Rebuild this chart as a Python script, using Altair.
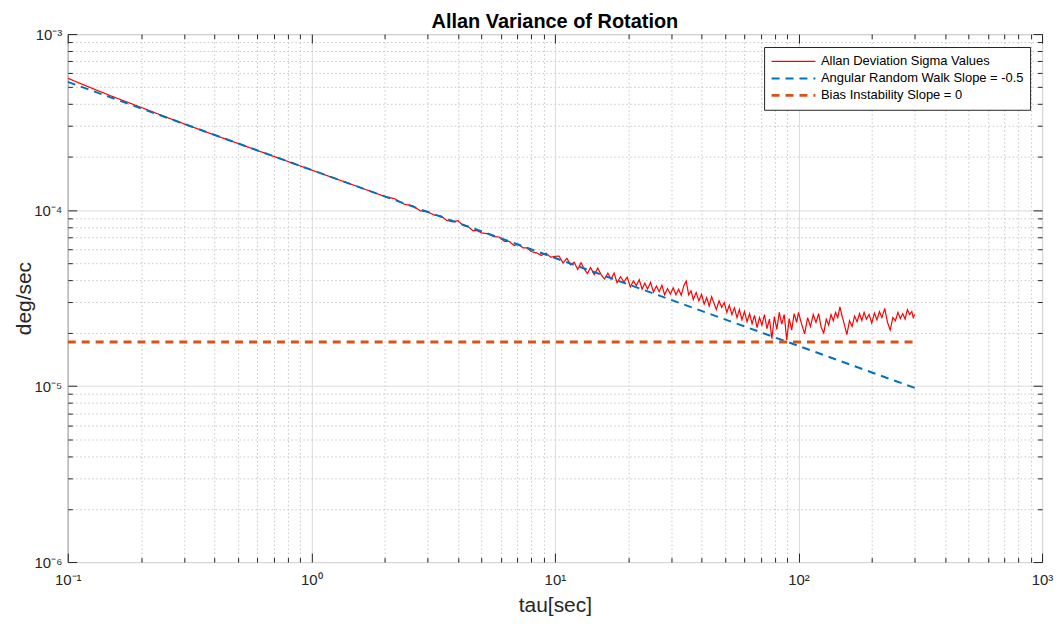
import altair as alt
import pandas as pd

series_names = ["Allan Deviation Sigma Values",
                "Angular Random Walk Slope = -0.5",
                "Bias Instability Slope = 0"]
series_colors = ["#ff0000", "#0072bd", "#d95319"]

tau_allan = [0.1, 0.12, 0.15, 0.2, 0.25, 0.3, 0.4, 0.5, 0.7, 1.0, 1.4, 2.0, 2.2, 2.4, 2.6, 2.8,
             3.0, 3.2, 3.4, 3.6, 3.8, 4.0, 4.2, 4.4, 4.6, 4.8, 5.0, 5.3, 5.6, 5.9, 6.2, 6.5, 6.8,
             7.1, 7.4, 7.7, 8.0, 8.4, 8.8, 9.2, 9.6, 10.0,
             10.4, 10.8, 11.2, 11.6, 12.0, 12.4, 12.8, 13.2, 13.6, 14.0, 14.5, 15.0, 15.5, 16.0,
             16.5, 17.0, 17.5, 18.0, 18.6, 19.2, 19.8, 20.4, 21.0, 21.6, 22.2, 22.8, 23.4, 24.0,
             24.7, 25.4, 26.1, 26.8, 27.5, 28.2, 29.0, 29.8,
             30.6, 31.4, 32.2, 33.0, 33.8, 34.6, 35.4, 36.2, 37.0, 38.0, 39.0, 40.0, 41.0, 42.0,
             43.0, 44.0, 45.0, 46.0, 47.2, 48.4, 49.6, 50.8, 52.0, 53.3, 54.6, 55.9, 57.2, 58.6,
             60.0, 61.5, 63.0, 64.5, 66.0, 67.6, 69.2, 70.8, 72.5, 74.2, 76.0, 77.8, 79.6, 81.5,
             83.4, 85.4, 87.4, 89.5, 91.6, 93.8, 96.0, 98.3,
             100, 103, 106, 109, 112, 115, 118, 121, 124, 127, 130, 133, 136, 139, 142, 145, 148,
             151, 154, 158, 162, 166, 170, 174, 178, 182, 186, 190, 195, 200, 205, 210, 215, 220,
             226, 232, 238, 244, 250, 256, 262, 268, 274, 280, 286, 292, 296, 300]
sigma_allan = [5.61e-4, 5.05e-4, 4.46e-4, 3.83e-4, 3.40e-4, 3.09e-4, 2.67e-4, 2.39e-4, 2.02e-4,
               1.69e-4, 1.43e-4, 1.195e-4, 1.16e-4, 1.08e-4, 1.06e-4, 0.99e-4,
               9.76e-5, 9.36e-5, 9.26e-5, 8.73e-5, 8.58e-5, 8.70e-5, 8.17e-5, 8.06e-5, 7.64e-5,
               7.63e-5, 7.41e-5, 7.34e-5, 7.07e-5, 7.03e-5, 6.65e-5, 6.63e-5, 6.29e-5, 6.40e-5,
               6.09e-5, 6.09e-5, 5.80e-5, 5.71e-5, 5.53e-5, 5.68e-5, 5.40e-5, 5.45e-5,
               5.48e-5, 5.00e-5, 5.32e-5, 4.88e-5, 5.05e-5, 4.60e-5, 5.02e-5, 4.62e-5, 4.36e-5,
               4.72e-5, 4.30e-5, 4.68e-5, 4.28e-5, 4.06e-5, 4.38e-5, 4.05e-5, 4.38e-5, 3.86e-5,
               4.18e-5, 3.90e-5, 4.16e-5, 3.66e-5, 3.96e-5, 3.72e-5, 4.02e-5, 3.55e-5, 3.84e-5,
               3.56e-5, 3.88e-5, 3.42e-5, 3.70e-5, 3.44e-5, 3.74e-5, 3.30e-5, 3.58e-5, 3.33e-5,
               3.62e-5, 3.30e-5, 3.55e-5, 3.28e-5, 3.70e-5, 3.95e-5, 3.30e-5, 3.48e-5, 3.10e-5,
               3.40e-5, 3.05e-5, 3.32e-5, 2.92e-5, 3.18e-5, 2.85e-5, 3.22e-5, 2.95e-5, 2.72e-5,
               3.05e-5, 2.80e-5, 2.98e-5, 2.62e-5, 2.88e-5, 2.55e-5, 2.78e-5, 2.45e-5, 2.72e-5,
               2.38e-5, 2.65e-5, 2.32e-5, 2.58e-5, 2.26e-5, 2.52e-5, 2.15e-5, 2.45e-5, 2.22e-5,
               2.55e-5, 2.12e-5, 2.40e-5, 1.86e-5, 2.48e-5, 2.10e-5, 2.62e-5, 2.25e-5, 2.55e-5,
               1.83e-5, 2.42e-5, 2.08e-5, 2.58e-5, 2.30e-5,
               2.62e-5, 2.25e-5, 1.98e-5, 2.45e-5, 2.18e-5, 2.55e-5, 2.30e-5, 2.58e-5, 2.15e-5,
               2.00e-5, 2.40e-5, 2.22e-5, 2.55e-5, 2.35e-5, 2.62e-5, 2.45e-5, 2.82e-5, 2.50e-5,
               2.26e-5, 1.96e-5, 2.35e-5, 2.18e-5, 2.50e-5, 2.32e-5, 2.58e-5, 2.36e-5, 2.62e-5,
               2.40e-5, 2.55e-5, 2.28e-5, 2.60e-5, 2.38e-5, 2.65e-5, 2.45e-5, 2.76e-5, 2.30e-5,
               2.08e-5, 2.45e-5, 2.35e-5, 2.62e-5, 2.42e-5, 2.58e-5, 2.40e-5, 2.72e-5, 2.55e-5,
               2.65e-5, 2.45e-5, 2.55e-5]

tau_arw = [0.1, 300]
sigma_arw = [5.35e-4, 9.76e-6]
tau_bias = [0.1, 300]
sigma_bias = [1.78e-5, 1.78e-5]

x_decades = [-1, 0, 1, 2, 3]
y_decades = [-6, -5, -4, -3]
x_labels = ["10⁻¹", "10⁰", "10¹", "10²", "10³"]
y_labels = ["10⁻⁶", "10⁻⁵", "10⁻⁴", "10⁻³"]
minor_steps = [1, 2, 3, 4, 5, 6, 7, 8, 9]

x_ticks = [m * 10.0 ** d for d in x_decades[:-1] for m in minor_steps] + [10.0 ** x_decades[-1]]
y_ticks = [m * 10.0 ** d for d in y_decades[:-1] for m in minor_steps] + [10.0 ** y_decades[-1]]

df_allan = pd.DataFrame({"tau": tau_allan, "sigma": sigma_allan, "series": series_names[0]})
df_fit = pd.concat([
    pd.DataFrame({"tau": tau_arw, "sigma": sigma_arw, "series": series_names[1]}),
    pd.DataFrame({"tau": tau_bias, "sigma": sigma_bias, "series": series_names[2]}),
])

W, H = 978, 530
FONT = "Liberation Sans"
AX = "#262626"

LOGV = "(log(datum.value)/LN10)"
MAJOR = f"abs({LOGV} - round({LOGV})) < 0.001"


def label_expr(decs, labs):
    s = "''"
    for d, l in reversed(list(zip(decs, labs))):
        s = f"abs({LOGV} - ({d})) < 0.001 ? '{l}' : " + s
    return s


xscale = alt.Scale(type="log", domain=[0.1, 1000], nice=False)
yscale = alt.Scale(type="log", domain=[1e-6, 1e-3], nice=False)

grid_color = {"condition": {"test": MAJOR, "value": "#dcdcdc"}, "value": "#c8c8c8"}
grid_dash = {"condition": {"test": MAJOR, "value": []}, "value": [1.5, 2.5]}
tick_size = {"condition": {"test": MAJOR, "value": 9}, "value": 4.5}

x_main = alt.Axis(values=x_ticks, labelExpr=label_expr(x_decades, x_labels), labelOverlap=False,
                  labelFlush=False, tickSize=0, domain=False, grid=True, gridColor=grid_color,
                  gridDash=grid_dash, gridWidth=1, labelFont=FONT, labelFontSize=15, labelColor=AX,
                  labelPadding=11, title="tau[sec]", titleFont=FONT, titleFontSize=21,
                  titleFontWeight="normal", titleColor=AX, titleX=W / 2, titleY=44,
                  titleBaseline="middle")
y_main = alt.Axis(values=y_ticks, labelExpr=label_expr(y_decades, y_labels), labelOverlap=False,
                  labelFlush=False, tickSize=0, domain=False, grid=True, gridColor=grid_color,
                  gridDash=grid_dash, gridWidth=1, labelFont=FONT, labelFontSize=15, labelColor=AX,
                  labelPadding=6, title="deg/sec", titleFont=FONT, titleFontSize=21,
                  titleFontWeight="normal", titleColor=AX, titleX=-43, titleY=H / 2,
                  titleBaseline="middle", titleAngle=-90)


def tick_axis(orient, offset, vals):
    return alt.Axis(orient=orient, offset=offset, values=vals, labels=False, grid=False,
                    domain=False, tickSize=tick_size, tickColor=AX, tickWidth=1, title=None)


legend = alt.Legend(orient="none", legendX=699, legendY=13, title=None, strokeColor=AX,
                    fillColor="white", padding=6, labelFont=FONT, labelFontSize=13,
                    labelColor="black", symbolType="stroke", symbolSize=1936, clipHeight=17,
                    rowPadding=0, labelOffset=4, symbolStrokeWidth=2.5, labelLimit=400)
color = alt.Color("series:N", scale=alt.Scale(domain=series_names, range=series_colors),
                  legend=legend)
dash = alt.StrokeDash("series:N", scale=alt.Scale(domain=series_names,
                                                  range=[[1, 0], [8, 6], [8, 6]]), legend=legend)
swidth = alt.StrokeWidth("series:N", scale=alt.Scale(domain=series_names, range=[1.2, 2.8, 2.8]),
                         legend=legend)

red = alt.Chart(df_allan).mark_line(clip=True).encode(
    x=alt.X("tau:Q", scale=xscale, axis=x_main),
    y=alt.Y("sigma:Q", scale=yscale, axis=y_main),
    color=color, strokeDash=dash, strokeWidth=swidth,
)
fits = alt.Chart(df_fit).mark_line(clip=True).encode(
    x=alt.X("tau:Q", scale=xscale, axis=None),
    y=alt.Y("sigma:Q", scale=yscale, axis=None),
    color=color, strokeDash=dash, strokeWidth=swidth,
)
ticks_a = alt.Chart(df_fit).mark_line(strokeOpacity=0).encode(
    x=alt.X("tau:Q", scale=xscale, axis=tick_axis("top", -H, x_ticks)),
    y=alt.Y("sigma:Q", scale=yscale, axis=tick_axis("right", -W, y_ticks)),
)
ticks_b = alt.Chart(df_fit).mark_line(strokeOpacity=0).encode(
    x=alt.X("tau:Q", scale=xscale, axis=tick_axis("bottom", -H, x_ticks)),
    y=alt.Y("sigma:Q", scale=yscale, axis=tick_axis("left", -W, y_ticks)),
)

chart = alt.layer(red, fits, ticks_a, ticks_b).resolve_axis(
    x="independent", y="independent"
).properties(
    width=W, height=H,
    autosize=alt.AutoSizeParams(type="none"),
    padding={"left": 60, "top": 25, "right": 12, "bottom": 55},
    background="white",
    title=alt.TitleParams("Allan Variance of Rotation", fontSize=20, fontWeight="bold",
                          font=FONT, color="black", anchor="middle", frame="group", offset=8,
                          dy=13),
).configure_view(stroke=AX, strokeWidth=1)

chart.save("out.html", embed_options={"renderer": "svg", "actions": False})
